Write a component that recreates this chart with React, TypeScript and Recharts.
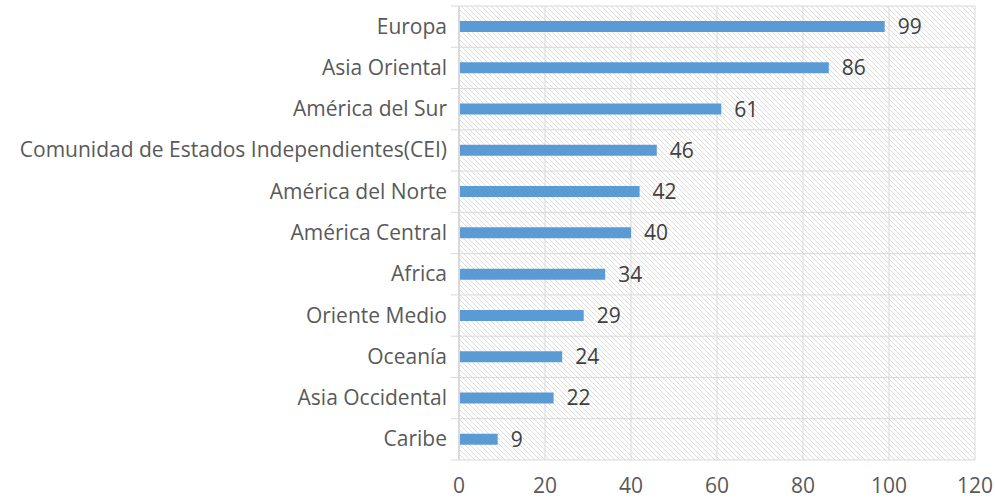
import React from 'react';
import { BarChart, Bar, XAxis, YAxis, CartesianGrid, LabelList } from 'recharts';

const regions = [
  'Europa',
  'Asia Oriental',
  'América del Sur',
  'Comunidad de Estados Independientes(CEI)',
  'América del Norte',
  'América Central',
  'Africa',
  'Oriente Medio',
  'Oceanía',
  'Asia Occidental',
  'Caribe',
];
const counts = [99, 86, 61, 46, 42, 40, 34, 29, 24, 22, 9];
const xTicks = [0, 20, 40, 60, 80, 100, 120];

const data = regions.map((name, i) => ({ name, value: counts[i] }));

const W = 995;
const H = 503;
const M = { top: 6, right: 20, left: 0, bottom: 4 };
const X_AXIS_H = 39;
const Y_AXIS_W = 459;
const PLOT_H = H - M.top - M.bottom - X_AXIS_H;
const ROW_H = PLOT_H / regions.length;
const FS = 21;

const GRID = '#d9d9d9';

const YTick = (props: any) => {
  const { y, payload, index } = props;
  const ax = Y_AXIS_W;
  return (
    <g>
      <line x1={ax - 8} x2={ax} y1={y - ROW_H / 2} y2={y - ROW_H / 2} stroke={GRID} />
      {index === regions.length - 1 && (
        <line x1={ax - 8} x2={ax} y1={y + ROW_H / 2} y2={y + ROW_H / 2} stroke={GRID} />
      )}
      <text x={ax - 12} y={y} dy={7} textAnchor="end" fill="#595959" fontSize={FS} fontFamily="Open Sans">
        {payload.value}
      </text>
    </g>
  );
};

export default function App() {
  return (
    <div style={{ position: 'absolute', left: 0, top: 0, width: W, height: H, background: '#fff' }}>
      <svg width={0} height={0} style={{ position: 'absolute' }}>
        <defs>
          <pattern id="hatch" patternUnits="userSpaceOnUse" width={5} height={5}>
            <path d="M0,0 L5,5 M-1,4 L1,6 M4,-1 L6,1" stroke="#dedede" strokeWidth={1} />
          </pattern>
        </defs>
      </svg>
      <BarChart width={W} height={H} data={data} layout="vertical" margin={M}>
        <CartesianGrid
          stroke={GRID}
          fill="url(#hatch)"
          fillOpacity={1}
          horizontalCoordinatesGenerator={({ offset }: any) =>
            regions.map((_, i) => offset.top + i * (offset.height / regions.length)).concat([offset.top + offset.height])
          }
        />
        <XAxis
          type="number"
          domain={[0, 120]}
          ticks={xTicks}
          axisLine={false}
          tickLine={false}
          height={X_AXIS_H}
          tickMargin={12}
          tick={{ fill: '#595959', fontSize: FS, fontFamily: 'Open Sans' }}
          interval={0}
        />
        <YAxis
          type="category"
          dataKey="name"
          width={Y_AXIS_W}
          axisLine={{ stroke: GRID, strokeWidth: 2 }}
          tickLine={false}
          interval={0}
          tick={<YTick />}
        />
        <Bar dataKey="value" fill="#5B9BD5" barSize={11} isAnimationActive={false}>
          <LabelList dataKey="value" position="right" offset={13} fill="#404040" fontSize={FS} fontFamily="Open Sans" />
        </Bar>
      </BarChart>
    </div>
  );
}
